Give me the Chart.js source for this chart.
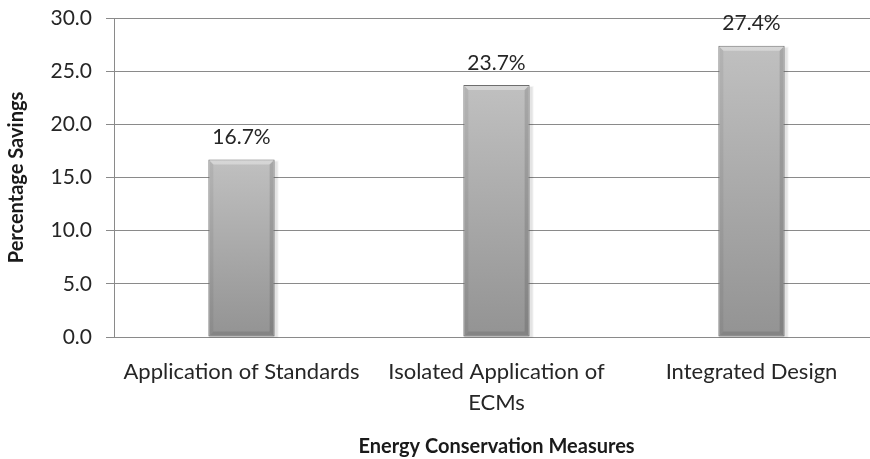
<!DOCTYPE html>
<html>
<head>
<meta charset="utf-8">
<script src="https://cdn.jsdelivr.net/npm/chart.js@4.4.0/dist/chart.umd.min.js"></script>
<style>
  html, body { margin: 0; padding: 0; background: #fff; overflow: hidden; }
  #wrap { width: 880px; height: 459px; }
</style>
</head>
<body>
<div id="wrap"><canvas id="chart" width="880" height="459"></canvas></div>
<script>
(() => {
  "use strict";

  // Data
  const categories = [
    "Application of Standards",
    ["Isolated Application of", "ECMs"],
    "Integrated Design"
  ];
  const savings = [16.7, 23.7, 27.4];
  const yTicks = [0, 5, 10, 15, 20, 25, 30];

  const FONT = "Lato, 'Open Sans', sans-serif";
  const GRID = "#8a8a8a";

  // vertical face gradient, per bar
  function barFill(ctx) {
    const chart = ctx.chart;
    const y = chart.scales.y;
    if (!chart.chartArea || !y || ctx.parsed === undefined) return "#a8a8a8";
    const top = y.getPixelForValue(ctx.parsed.y);
    const base = y.getPixelForValue(0);
    const g = chart.ctx.createLinearGradient(0, top, 0, base);
    g.addColorStop(0, "#c0c0c0");
    g.addColorStop(1, "#939393");
    return g;
  }

  // soft shadow + bevel around the bars
  const bevel = {
    id: "bevel",
    beforeDatasetsDraw(chart) {
      const c = chart.ctx;
      chart.getDatasetMeta(0).data.forEach(bar => {
        const l = bar.x - bar.width / 2, t = bar.y, h = bar.base - bar.y;
        c.save();
        c.fillStyle = "rgba(0,0,0,0.07)";
        c.fillRect(l + 1, t + 2, bar.width + 2, h - 1);
        c.fillStyle = "rgba(0,0,0,0.04)";
        c.fillRect(l, t + 1, bar.width + 4, h);
        c.restore();
      });
    },
    afterDatasetsDraw(chart) {
      const c = chart.ctx;
      chart.getDatasetMeta(0).data.forEach(bar => {
        const w = bar.width, l = bar.x - w / 2, r = l + w, t = bar.y, b = bar.base;
        const d = 5;
        c.save();
        // top highlight
        c.fillStyle = "rgba(255,255,255,0.35)";
        c.beginPath();
        c.moveTo(l + 1, t + 1); c.lineTo(r - 1, t + 1); c.lineTo(r - d, t + d); c.lineTo(l + d, t + d);
        c.closePath(); c.fill();
        // left side
        c.fillStyle = "rgba(0,0,0,0.06)";
        c.beginPath();
        c.moveTo(l + 1, t + 1); c.lineTo(l + d, t + d); c.lineTo(l + d, b - d); c.lineTo(l + 1, b);
        c.closePath(); c.fill();
        // right side
        c.fillStyle = "rgba(0,0,0,0.12)";
        c.beginPath();
        c.moveTo(r - 1, t + 1); c.lineTo(r - d, t + d); c.lineTo(r - d, b - d); c.lineTo(r - 1, b);
        c.closePath(); c.fill();
        // bottom
        c.fillStyle = "rgba(0,0,0,0.10)";
        c.beginPath();
        c.moveTo(l + 1, b); c.lineTo(l + d, b - d); c.lineTo(r - d, b - d); c.lineTo(r - 1, b);
        c.closePath(); c.fill();
        c.restore();
      });
    }
  };

  // value labels above bars
  const valueLabels = {
    id: "valueLabels",
    afterDatasetsDraw(chart) {
      const c = chart.ctx;
      c.save();
      c.font = "21px " + FONT;
      c.fillStyle = "#262626";
      c.textAlign = "center";
      c.textBaseline = "middle";
      chart.getDatasetMeta(0).data.forEach((bar, i) => {
        c.fillText(savings[i].toFixed(1) + "%", bar.x, bar.y - 22);
      });
      c.restore();
    }
  };

  new Chart(document.getElementById("chart"), {
    type: "bar",
    data: {
      labels: categories,
      datasets: [{
        data: savings,
        backgroundColor: barFill,
        borderColor: "#6e6e6e",
        borderWidth: 1,
        borderSkipped: false,
        categoryPercentage: 1,
        barPercentage: 0.26
      }]
    },
    options: {
      responsive: false,
      animation: false,
      layout: { padding: { top: 18, right: 1, left: 0, bottom: 0 } },
      plugins: { legend: { display: false }, tooltip: { enabled: false } },
      scales: {
        x: {
          grid: { display: false, drawTicks: false },
          border: { display: false },
          ticks: { color: "#262626", font: { family: FONT, size: 22, lineHeight: 1.4 }, padding: 20, maxRotation: 0, autoSkip: false },
          title: {
            display: true, text: "Energy Conservation Measures", color: "#1a1a1a",
            font: { family: FONT, size: 20, weight: "bold" }, padding: { top: 0, bottom: 0 }
          },
          afterFit: (s) => { s.height = 122; s.paddingLeft = 0; s.paddingRight = 0; }
        },
        y: {
          min: 0, max: 30,
          afterBuildTicks: (s) => { s.ticks = yTicks.map(v => ({ value: v })); },
          grid: { color: GRID, lineWidth: 1, tickLength: 8, drawTicks: true },
          border: { display: true, color: GRID },
          ticks: { color: "#262626", font: { family: FONT, size: 21 }, padding: 14,
                   callback: (v) => Number(v).toFixed(1) },
          title: {
            display: true, text: "Percentage Savings", color: "#1a1a1a",
            font: { family: FONT, size: 20, weight: "bold" }, padding: { top: 5, bottom: 0 }
          },
          afterFit: (s) => { s.width = 114; s.paddingTop = 0; s.paddingBottom = 0; }
        }
      }
    },
    plugins: [bevel, valueLabels]
  });
})();
</script>
</body>
</html>
